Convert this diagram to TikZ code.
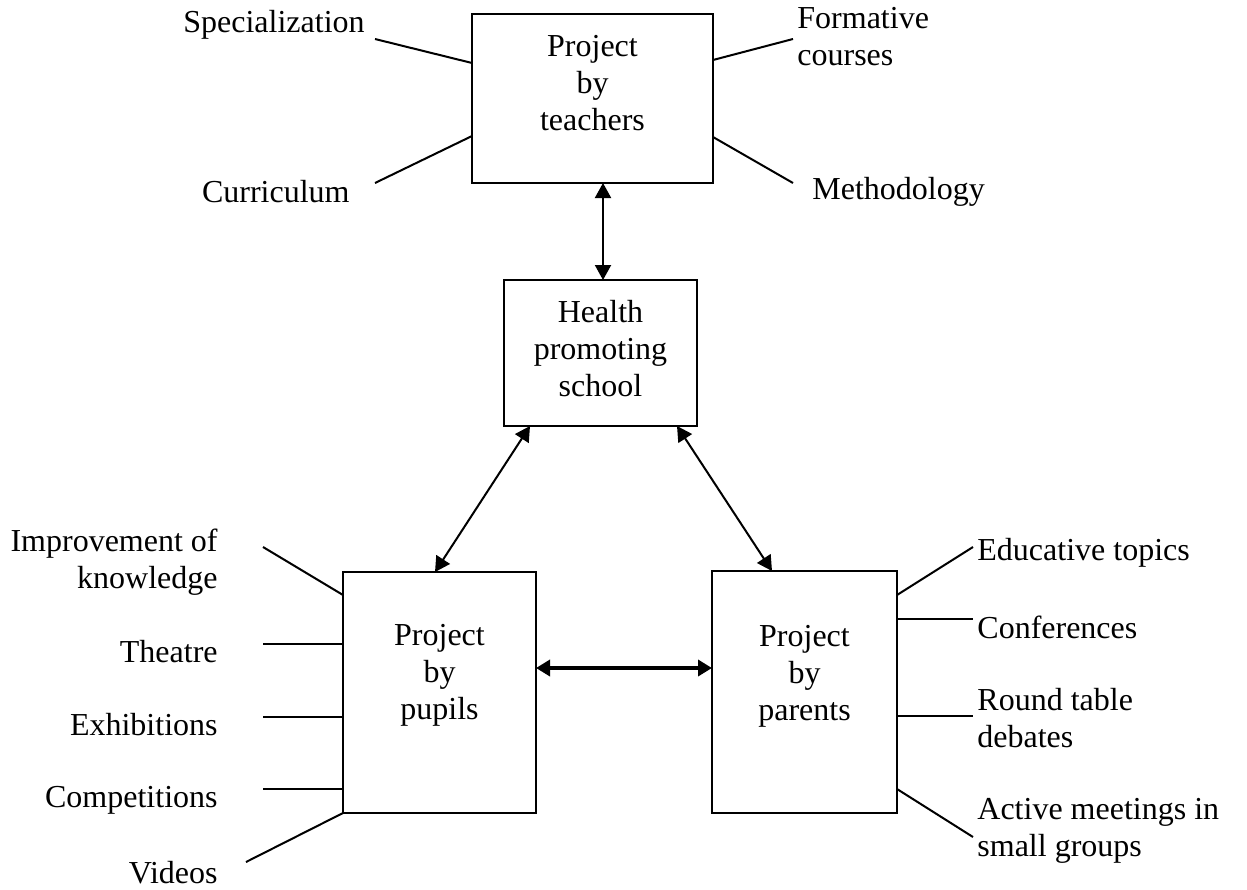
\documentclass[tikz,border=0pt]{standalone}
\usepackage{fontspec}
\setmainfont{Liberation Serif}
\usetikzlibrary{arrows.meta,calc}
\begin{document}
\begin{tikzpicture}[x=0.5pt,y=-0.5pt,
  box/.style={draw, line width=1pt, inner sep=0pt, outer sep=0pt, fill=none},
  txt/.style={font=\fontsize{16}{18.5}\selectfont, inner sep=0pt},
  spoke/.style={line width=1pt},
  dbl/.style={line width=1pt, {Triangle[length=7.5pt,width=8pt]}-{Triangle[length=7.5pt,width=8pt]}},
  thickdbl/.style={line width=2pt, {Triangle[length=7pt,width=8pt]}-{Triangle[length=7pt,width=8pt]}}]
\useasboundingbox (0,0) rectangle (1247,889);
% boxes
\node[box, minimum width=120.5pt, minimum height=84.5pt] (T) at (592.5,98.5) {};
\node[box, minimum width=96.5pt, minimum height=73pt] (H) at (600.5,353) {};
\node[box, minimum width=96.5pt, minimum height=120.5pt] (P) at (439.5,692.5) {};
\node[box, minimum width=92.5pt, minimum height=121pt] (R) at (804.5,692) {};
% box texts
\node[txt, align=center] (Tt) at (592.5,83) {Project\\by\\teachers};
\node[txt, align=center] (Ht) at (600.5,349) {Health\\promoting\\school};
\node[txt, align=center] (Pt) at (439.5,675) {Project\\by\\pupils};
\node[txt, align=center] (Rt) at (804.5,676) {Project\\by\\parents};
% side labels
\node[txt, anchor=east] (spec) at (365,25) {Specialization};
\node[txt, anchor=east] (curr) at (350,192) {Curriculum};
\node[txt, anchor=west, align=left] (form) at (797,37) {Formative\\courses};
\node[txt, anchor=west] (meth) at (812,192) {Methodology};
\node[txt, anchor=east, align=right] (impr) at (218,562) {Improvement of\\knowledge};
\node[txt, anchor=east] (thea) at (218,652) {Theatre};
\node[txt, anchor=east] (exhi) at (218,725) {Exhibitions};
\node[txt, anchor=east] (comp) at (218,800) {Competitions};
\node[txt, anchor=east] (vide) at (218,873) {Videos};
\node[txt, anchor=west] (educ) at (977,553) {Educative topics};
\node[txt, anchor=west] (conf) at (977,627) {Conferences};
\node[txt, anchor=west, align=left] (roun) at (977,718) {Round table\\debates};
\node[txt, anchor=west, align=left] (acti) at (977,831) {Active meetings in\\small groups};
% free ends of spokes
\coordinate (cSpec) at (375,39);
\coordinate (cCurr) at (375,183);
\coordinate (cForm) at (793,39);
\coordinate (cMeth) at (793,183);
\coordinate (cImpr) at (263,547);
\coordinate (cThea) at (263,644);
\coordinate (cExhi) at (263,717);
\coordinate (cComp) at (263,789);
\coordinate (cVide) at (246,862);
\coordinate (cEduc) at (973,547);
\coordinate (cConf) at (973,619);
\coordinate (cRoun) at (973,716);
\coordinate (cActi) at (973,837);
% spokes
\draw[spoke] (cSpec) -- ($(T.north west)+(0,49)$);
\draw[spoke] (cCurr) -- ($(T.north west)+(0,122)$);
\draw[spoke] ($(T.north east)+(0,46)$) -- (cForm);
\draw[spoke] ($(T.north east)+(0,123)$) -- (cMeth);
\draw[spoke] (cImpr) -- ($(P.north west)+(0,23)$);
\draw[spoke] (cThea) -- ($(P.north west)+(0,72)$);
\draw[spoke] (cExhi) -- ($(P.north west)+(0,145)$);
\draw[spoke] (cComp) -- ($(P.north west)+(0,217)$);
\draw[spoke] (cVide) -- (P.south west);
\draw[spoke] ($(R.north east)+(0,24)$) -- (cEduc);
\draw[spoke] ($(R.north east)+(0,48)$) -- (cConf);
\draw[spoke] ($(R.north east)+(0,145)$) -- (cRoun);
\draw[spoke] ($(R.north east)+(0,218)$) -- (cActi);
% arrows
\draw[dbl] ($(T.south)+(10.5,0)$) -- ($(H.north)+(2.5,0)$);
\draw[dbl] ($(H.south west)+(26,0)$) -- ($(P.north west)+(92,0)$);
\draw[dbl] ($(H.south east)+(-20,0)$) -- ($(R.north west)+(60,0)$);
\draw[thickdbl] ($(P.north east)+(0,96)$) -- ($(R.north west)+(0,97)$);
\end{tikzpicture}
\end{document}
